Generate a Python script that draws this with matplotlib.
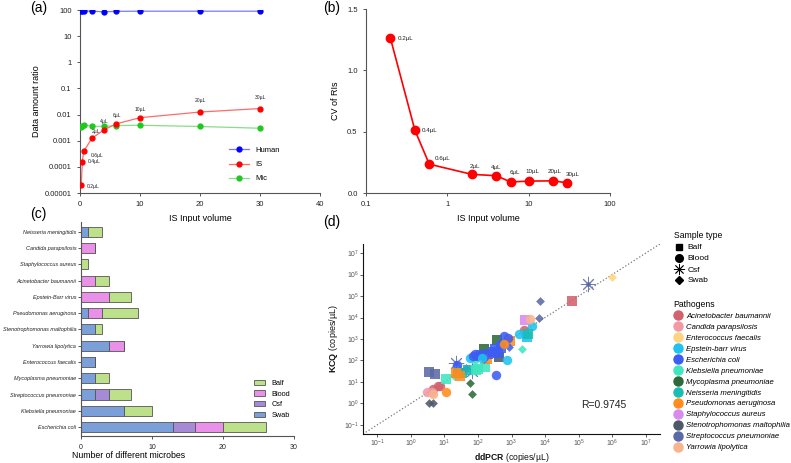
import matplotlib
matplotlib.use('Agg')
import matplotlib.pyplot as plt
from matplotlib.lines import Line2D
from matplotlib.patches import Patch

plt.rcParams['font.family'] = ['Liberation Sans', 'DejaVu Sans']
plt.rcParams['mathtext.fontset'] = 'custom'
plt.rcParams['mathtext.rm'] = 'Liberation Sans'
plt.rcParams['mathtext.it'] = 'Liberation Sans:italic'
plt.rcParams['mathtext.bf'] = 'Liberation Sans:bold'

# ---------------- Panel (a) / (b) data ----------------
volumes = [0.2, 0.4, 0.6, 2, 4, 6, 10, 20, 30]
vol_labels = ['0.2µL', '0.4µL', '0.6µL', '2µL', '4µL', '6µL', '10µL', '20µL', '30µL']
human_ratio = [92, 91, 92, 90, 85, 89, 90, 90, 90]
is_ratio = [2.0e-5, 1.6e-4, 3.9e-4, 1.25e-3, 2.6e-3, 4.4e-3, 7.6e-3, 1.25e-2, 1.7e-2]
mic_ratio = [3.4e-3, 3.8e-3, 4.0e-3, 3.6e-3, 3.5e-3, 3.8e-3, 3.9e-3, 3.5e-3, 3.0e-3]
cv_ris = [1.26, 0.51, 0.235, 0.152, 0.141, 0.09, 0.097, 0.099, 0.083]

# ---------------- Panel (c) data ----------------
microbes = ['Neisseria meningitidis', 'Candida parapsilosis', 'Staphylococcus aureus',
            'Acinetobacter baumannii', 'Epstein-Barr virus', 'Pseudomonas aeruginosa',
            'Stenotrophomonas maltophilia', 'Yarrowia lipolytica', 'Enterococcus faecalis',
            'Mycoplasma pneumoniae', 'Streptococcus pneumoniae', 'Klebsiella pneumoniae',
            'Escherichia coli']
swab_counts = [1, 0, 0, 0, 0, 1, 2, 4, 2, 2, 2, 6, 13]
csf_counts = [0, 0, 0, 0, 0, 0, 0, 0, 0, 0, 2, 0, 3]
blood_counts = [0, 2, 0, 2, 4, 2, 0, 2, 0, 0, 0, 0, 4]
balf_counts = [2, 0, 1, 2, 3, 5, 1, 0, 0, 2, 3, 4, 6]

# ---------------- Panel (d) data ----------------
pathogens = ['Acinetobacter baumannii', 'Candida parapsilosis', 'Enterococcus faecalis',
             'Epstein-barr virus', 'Escherichia coli', 'Klebsiella pneumoniae',
             'Mycoplasma pneumoniae', 'Neisseria meningitidis', 'Pseudomonas aeruginosa',
             'Staphylococcus aureus', 'Stenotrophomonas maltophilia',
             'Streptococcus pneumoniae', 'Yarrowia lipolytica']
pathogen_colors = ['#d2626d', '#f19aa6', '#ffd47e', '#1fc3ef', '#3c5cf4', '#3fe6c0',
                   '#2d6a39', '#19bdb4', '#ff8c1c', '#d88af0', '#4d5969', '#5b69a6', '#f8b48c']
sample_types = ['Balf', 'Blood', 'Csf', 'Swab']

pt_pathogen = ['Stenotrophomonas maltophilia', 'Stenotrophomonas maltophilia',
               'Streptococcus pneumoniae', 'Streptococcus pneumoniae',
               'Acinetobacter baumannii', 'Acinetobacter baumannii', 'Acinetobacter baumannii',
               'Candida parapsilosis', 'Candida parapsilosis', 'Yarrowia lipolytica',
               'Pseudomonas aeruginosa', 'Klebsiella pneumoniae',
               'Mycoplasma pneumoniae', 'Mycoplasma pneumoniae',
               'Streptococcus pneumoniae', 'Streptococcus pneumoniae',
               'Escherichia coli', 'Klebsiella pneumoniae',
               'Neisseria meningitidis', 'Neisseria meningitidis', 'Pseudomonas aeruginosa',
               'Escherichia coli', 'Klebsiella pneumoniae', 'Klebsiella pneumoniae',
               'Klebsiella pneumoniae', 'Epstein-barr virus', 'Escherichia coli',
               'Escherichia coli', 'Escherichia coli', 'Stenotrophomonas maltophilia',
               'Pseudomonas aeruginosa', 'Epstein-barr virus', 'Mycoplasma pneumoniae',
               'Mycoplasma pneumoniae', 'Escherichia coli', 'Pseudomonas aeruginosa',
               'Escherichia coli', 'Escherichia coli', 'Escherichia coli', 'Escherichia coli',
               'Escherichia coli', 'Escherichia coli', 'Escherichia coli', 'Escherichia coli',
               'Acinetobacter baumannii', 'Epstein-barr virus', 'Epstein-barr virus',
               'Epstein-barr virus', 'Epstein-barr virus', 'Neisseria meningitidis',
               'Klebsiella pneumoniae', 'Staphylococcus aureus', 'Yarrowia lipolytica',
               'Streptococcus pneumoniae', 'Streptococcus pneumoniae',
               'Acinetobacter baumannii', 'Streptococcus pneumoniae', 'Enterococcus faecalis',
               'Escherichia coli', 'Pseudomonas aeruginosa', 'Escherichia coli',
               'Epstein-barr virus', 'Escherichia coli', 'Neisseria meningitidis',
               'Klebsiella pneumoniae', 'Pseudomonas aeruginosa']
pt_type = ['Swab', 'Swab',
           'Balf', 'Balf',
           'Blood', 'Blood', 'Blood',
           'Blood', 'Blood', 'Blood',
           'Blood', 'Balf',
           'Swab', 'Swab',
           'Csf', 'Csf',
           'Blood', 'Swab',
           'Balf', 'Balf', 'Balf',
           'Swab', 'Balf', 'Balf',
           'Swab', 'Blood', 'Blood',
           'Blood', 'Blood', 'Balf',
           'Balf', 'Blood', 'Balf',
           'Balf', 'Blood', 'Balf',
           'Swab', 'Balf', 'Balf', 'Balf',
           'Balf', 'Balf', 'Balf', 'Blood',
           'Blood', 'Blood', 'Blood',
           'Blood', 'Balf', 'Balf',
           'Swab', 'Balf', 'Blood',
           'Swab', 'Swab',
           'Balf', 'Csf', 'Swab',
           'Blood', 'Blood', 'Swab',
           'Blood', 'Blood', 'Balf',
           'Balf', 'Balf']
ddpcr = [3.5, 4.6,
         3.5, 5.4,
         4.6, 6.5, 7.2,
         3.1, 4.2, 4.6,
         11, 11.5,
         58, 68,
         22, 65,
         24, 20,
         33, 26, 22,
         44, 100, 160,
         80, 58, 80,
         93, 340, 430,
         190, 710, 150,
         370, 600, 890,
         850, 200, 280, 400,
         320, 500, 120, 450,
         2300, 1700, 2600,
         4200, 2900, 3000,
         2000, 2500, 3600,
         7000, 6800,
         65000, 195000, 1000000,
         800, 600, 150,
         130, 70, 50,
         90, 30]
kcq = [1.05, 1.05,
       28, 23,
       4.8, 6.2, 6.2,
       3.4, 3.4, 2.8,
       3.6, 14,
       9, 2.7,
       80, 31,
       63, 19.5,
       26, 26, 27,
       44, 40, 48,
       90, 135, 200,
       160, 22, 150,
       112, 105, 350,
       930, 1400, 780,
       430, 200, 250, 230,
       330, 400, 180, 600,
       2600, 1700, 1700,
       4200, 1200, 1800,
       360, 7500, 8500,
       60000, 9800,
       60000, 350000, 800000,
       1100, 600, 120,
       130, 160, 35,
       38, 20]
r_value = 0.9745

# ---------------- Figure ----------------
W, H = 791, 463
fig = plt.figure(figsize=(W / 100, H / 100), dpi=100)


def axes_px(l, t, r, b):
    return fig.add_axes([l / W, 1 - b / H, (r - l) / W, (b - t) / H])


spine_col = '#555555'


def style_axes(ax, col=spine_col, lw=0.8):
    for s in ['top', 'right']:
        ax.spines[s].set_visible(False)
    for s in ['left', 'bottom']:
        ax.spines[s].set_color(col)
        ax.spines[s].set_linewidth(lw)
    ax.tick_params(colors=col, labelcolor='#222222', labelsize=5.5, length=2.5, width=0.7)
    ax.minorticks_off()


# ----- (a) -----
axa = axes_px(80, 10, 320, 193)
axa.plot(volumes, human_ratio, '-', color='#7878ff', lw=0.9, zorder=2)
axa.plot(volumes, human_ratio, 'o', color='#0000ff', ms=3.5, zorder=3)
axa.plot(volumes, mic_ratio, '-', color='#88dd88', lw=0.9, zorder=2)
axa.plot(volumes, mic_ratio, 'o', color='#1ec81e', ms=3.5, zorder=3)
axa.plot(volumes, is_ratio, '-', color='#ff6a6a', lw=0.9, zorder=2)
axa.plot(volumes, is_ratio, 'o', color='#ff0000', ms=3.5, zorder=4)
axa.set_yscale('log')
axa.set_ylim(1e-5, 100)
axa.set_xlim(0, 40)
axa.set_yticks([1e-5, 1e-4, 1e-3, 1e-2, 1e-1, 1, 10, 100])
axa.set_yticklabels(['0.00001', '0.0001', '0.001', '0.01', '0.1', '1', '10', '100'])
axa.set_xticks([0, 10, 20, 30, 40])
style_axes(axa)
axa.set_xlabel('IS Input volume', fontsize=6.5, labelpad=4)
axa.set_ylabel('Data amount ratio', fontsize=6.5, labelpad=3)
offs_a = [(4, -1, 'left'), (4, 0, 'left'), (5, -3, 'left'), (3, 5, 'center'), (0, 6, 'center'),
          (1, 6, 'center'), (0, 6, 'center'), (0, 8, 'center'), (0, 8, 'center')]
for v, y, lab, (dx, dy, ha) in zip(volumes, is_ratio, vol_labels, offs_a):
    axa.annotate(lab, (v, y), xytext=(dx, dy), textcoords='offset points', fontsize=3.6,
                 ha=ha, va='center', color='#222222')
leg_a = [Line2D([], [], color='#7878ff', lw=0.9, marker='o', mfc='#0000ff', mec='#0000ff', ms=3.5),
         Line2D([], [], color='#ff6a6a', lw=0.9, marker='o', mfc='#ff0000', mec='#ff0000', ms=3.5),
         Line2D([], [], color='#88dd88', lw=0.9, marker='o', mfc='#1ec81e', mec='#1ec81e', ms=3.5)]
axa.legend(leg_a, ['Human', 'IS', 'Mic'], loc='lower right', bbox_to_anchor=(0.86, 0.02),
           frameon=False, fontsize=5.5, handlelength=2.6, labelspacing=0.9)
fig.text(30 / W, 1 - 8 / H, '(a)', fontsize=10, va='center', ha='left')

# ----- (b) -----
axb = axes_px(366, 9, 610, 193)
axb.plot(volumes, cv_ris, '-o', color='#ff0000', lw=1.2, ms=6, zorder=3)
axb.set_xscale('log')
axb.set_xlim(0.1, 100)
axb.set_ylim(0, 1.5)
axb.set_xticks([0.1, 1, 10, 100])
axb.set_xticklabels(['0.1', '1', '10', '100'])
axb.set_yticks([0, 0.5, 1.0, 1.5])
axb.set_yticklabels(['0.0', '0.5', '1.0', '1.5'])
style_axes(axb)
axb.set_xlabel('IS Input volume', fontsize=6.5, labelpad=4)
axb.set_ylabel('CV of RIs', fontsize=6.5, labelpad=5)
offs_b = [(5, 0, 'left'), (5, 0, 'left'), (4, 4, 'left'), (2, 6, 'center'), (0, 6, 'center'),
          (3, 7, 'center'), (3, 7, 'center'), (1, 7, 'center'), (4, 6, 'center')]
for v, y, lab, (dx, dy, ha) in zip(volumes, cv_ris, vol_labels, offs_b):
    axb.annotate(lab, (v, y), xytext=(dx, dy), textcoords='offset points', fontsize=4.5,
                 ha=ha, va='center', color='#222222')
fig.text(323 / W, 1 - 8 / H, '(b)', fontsize=10, va='center', ha='left')

# ----- (c) -----
axc = axes_px(81, 222, 294, 436)
ypos = list(range(len(microbes)))
col_swab, col_csf, col_blood, col_balf = '#7a9fd9', '#a68ad6', '#e991e9', '#bde18b'
left = [0] * len(microbes)
for vals, col in [(swab_counts, col_swab), (csf_counts, col_csf),
                  (blood_counts, col_blood), (balf_counts, col_balf)]:
    axc.barh(ypos, vals, left=left, height=0.62, color=col, edgecolor='#555555', linewidth=0.6)
    left = [a + b for a, b in zip(left, vals)]
axc.set_ylim(len(microbes) - 0.45, -0.6)
axc.set_xlim(0, 30)
axc.set_xticks([0, 10, 20, 30])
axc.set_yticks(ypos)
axc.set_yticklabels(microbes, fontstyle='italic')
style_axes(axc)
axc.tick_params(axis='y', labelsize=3.95, length=2, pad=1.5)
axc.tick_params(axis='x', labelsize=5)
axc.set_xlabel('Number of different microbes', fontsize=6.3, labelpad=4)
axc.xaxis.set_label_coords(0.225, -0.07)
leg_c = [Patch(facecolor=col_balf, edgecolor='#555555', lw=0.6),
         Patch(facecolor=col_blood, edgecolor='#555555', lw=0.6),
         Patch(facecolor=col_csf, edgecolor='#555555', lw=0.6),
         Patch(facecolor=col_swab, edgecolor='#555555', lw=0.6)]
axc.legend(leg_c, ['Balf', 'Blood', 'Csf', 'Swab'], loc='upper left',
           bbox_to_anchor=(247 / W, 1 - 373 / H), bbox_transform=fig.transFigure,
           frameon=False, fontsize=5.3, handlelength=1.6, handleheight=0.7, labelspacing=0.5)
fig.text(30 / W, 1 - 214 / H, '(c)', fontsize=10, va='center', ha='left')

# ----- (d) -----
axd = axes_px(363, 244, 660, 434)
marker_map = {'Balf': 's', 'Blood': 'o', 'Csf': (8, 2, 0), 'Swab': 'D'}
size_map = {'Balf': 42, 'Blood': 46, 'Csf': 110, 'Swab': 20}
color_of = dict(zip(pathogens, pathogen_colors))
lo, hi = 10 ** -1.42, 10 ** 7.42
axd.plot([lo, hi], [lo, hi], ':', color='#777777', lw=0.9, zorder=1)
for p, t, x, y in zip(pt_pathogen, pt_type, ddpcr, kcq):
    c = color_of[p]
    if t == 'Csf':
        axd.scatter([x], [y], marker=marker_map[t], s=size_map[t], color=c, linewidths=0.7,
                    alpha=0.85, zorder=3)
        axd.scatter([x], [y], marker='o', s=5, color=c, zorder=3)
    else:
        axd.scatter([x], [y], marker=marker_map[t], s=size_map[t], color=c, linewidths=0,
                    alpha=0.88, zorder=3)
axd.set_xscale('log')
axd.set_yscale('log')
axd.set_xlim(lo, hi)
axd.set_ylim(lo, hi)
dec_ticks = [10.0 ** k for k in range(-1, 8)]
dec_labels = [r'$10^{%d}$' % k for k in range(-1, 8)]
axd.set_xticks(dec_ticks)
axd.set_xticklabels(dec_labels)
axd.set_yticks(dec_ticks)
axd.set_yticklabels(dec_labels)
for s in ['top', 'right']:
    axd.spines[s].set_visible(False)
for s in ['left', 'bottom']:
    axd.spines[s].set_color('#111111')
    axd.spines[s].set_linewidth(0.8)
axd.tick_params(colors='#444444', labelcolor='#555555', labelsize=4.9, length=2, width=0.6, pad=1.0)
axd.minorticks_off()
axd.set_xlabel(r'$\bf{ddPCR}$ (copies/µL)', fontsize=6.2, color='#111111', labelpad=1)
axd.set_ylabel(r'$\bf{KCQ}$ (copies/µL)', fontsize=6.5, labelpad=3, color='#111111')
axd.text(0.735, 0.155, 'R=%.4f' % r_value, transform=axd.transAxes, fontsize=7.5,
         color='#222222', ha='left', va='center')
fig.text(323 / W, 1 - 222 / H, '(d)', fontsize=10, va='center', ha='left')

# legends for (d)
h_type = [Line2D([], [], ls='', marker='s', color='black', ms=5),
          Line2D([], [], ls='', marker='o', color='black', ms=5.5),
          Line2D([], [], ls='', marker=(8, 2, 0), color='black', ms=8, mew=0.6),
          Line2D([], [], ls='', marker='D', color='black', ms=3.8)]
leg1 = axd.legend(h_type, sample_types, title='Sample type', loc='upper left',
                  bbox_to_anchor=(666 / W, 1 - 224 / H), bbox_transform=fig.transFigure,
                  frameon=False, fontsize=6, title_fontsize=6.2, handlelength=1.2,
                  labelspacing=0.38, handletextpad=0.5)
leg1._legend_box.align = 'left'
axd.add_artist(leg1)
h_path = [Line2D([], [], ls='', marker='o', color=c, ms=6.5) for c in pathogen_colors]
leg2 = axd.legend(h_path, pathogens, title='Pathogens', loc='upper left',
                  bbox_to_anchor=(666 / W, 1 - 293 / H), bbox_transform=fig.transFigure,
                  frameon=False, title_fontsize=6.2, handlelength=1.2,
                  labelspacing=0.45, handletextpad=0.5, prop={'style': 'italic', 'size': 5.6})
leg2._legend_box.align = 'left'

fig.savefig('out.png', dpi=100)
